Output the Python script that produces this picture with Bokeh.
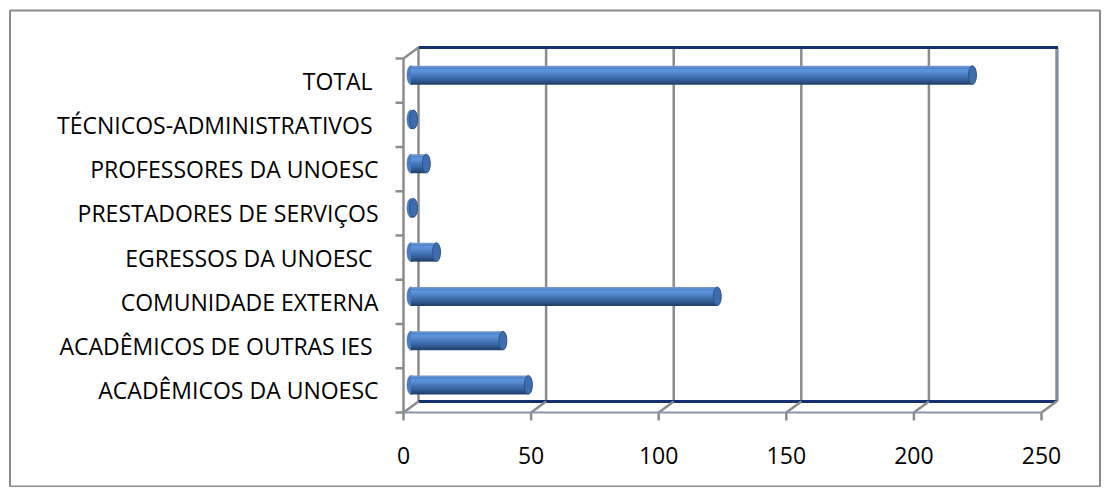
from bokeh.plotting import figure
from bokeh.models import Range1d, ColumnDataSource
from bokeh.core.properties import value
from bokeh.embed import file_html
from bokeh.resources import INLINE

# ---- data (bottom to top) ----
categories = [
    "ACADÊMICOS DA UNOESC",
    "ACADÊMICOS DE OUTRAS IES ",
    "COMUNIDADE EXTERNA",
    "EGRESSOS DA UNOESC ",
    "PRESTADORES DE SERVIÇOS",
    "PROFESSORES DA UNOESC",
    "TÉCNICOS-ADMINISTRATIVOS ",
    "TOTAL ",
]
counts = [46, 36, 120, 10, 1, 6, 1, 220]
x_ticks = [0, 50, 100, 150, 200, 250]
x_tick_labels = ["0", "50", "100", "150", "200", "250"]

# ---- layout constants (pixels) ----
W, H = 1101, 487
S = 2.552          # px per value unit
C = 44.25          # px per category
X0c = 403          # canvas px of value 0 (front plane)
Y0c = H - 412      # px from canvas bottom of front floor line
DX = 15 / S        # depth offset in value units
DY = 11 / C        # depth offset in category units
XMAX = 250
N = len(categories)

def px_x(px):
    return (px - X0c) / S

def px_y(py):
    return ((H - py) - Y0c) / C

p = figure(width=W, height=H, output_backend="svg", toolbar_location=None,
           x_range=Range1d(-X0c / S, (W - X0c) / S),
           y_range=Range1d(-Y0c / C, (H - Y0c) / C),
           x_axis_location=None, y_axis_location=None,
           min_border=0, min_border_left=0, min_border_right=0,
           min_border_top=0, min_border_bottom=0)
p.outline_line_color = None
p.grid.visible = False
p.background_fill_color = "white"
p.border_fill_color = "white"

GRAY = "#8c8c8c"
NAVY = "#14306e"

# outer chart border
p.quad(left=[px_x(9.5)], right=[px_x(1099.5)], top=[px_y(10)], bottom=[px_y(486)],
       fill_color=None, line_color=GRAY, line_width=2)

# back wall gridlines
p.segment(x0=[t + DX for t in x_ticks], y0=[DY] * len(x_ticks),
          x1=[t + DX for t in x_ticks], y1=[N + DY] * len(x_ticks),
          line_color=GRAY, line_width=2.5)
# back wall right edge thin navy
p.segment(x0=[XMAX + DX + 1.5 / S], y0=[DY], x1=[XMAX + DX + 1.5 / S], y1=[N + DY],
          line_color="#5a74a8", line_width=1)
# back wall top edge
p.segment(x0=[DX], y0=[N + DY], x1=[XMAX + DX + 1.5 / S], y1=[N + DY],
          line_color=NAVY, line_width=3)
# floor back edge
p.segment(x0=[DX], y0=[DY], x1=[XMAX + DX], y1=[DY],
          line_color=NAVY, line_width=3)
# floor diagonals
p.segment(x0=x_ticks, y0=[0] * len(x_ticks),
          x1=[t + DX for t in x_ticks], y1=[DY] * len(x_ticks),
          line_color=GRAY, line_width=2.5)
# floor front line
p.segment(x0=[0], y0=[0], x1=[XMAX], y1=[0], line_color="#8a96ad", line_width=2)
# bottom ticks
p.segment(x0=x_ticks, y0=[0] * len(x_ticks), x1=x_ticks,
          y1=[-8 / C] * len(x_ticks), line_color=GRAY, line_width=2.5)
# left wall front line
p.segment(x0=[0], y0=[0], x1=[0], y1=[N], line_color=GRAY, line_width=2.5)
# left wall top diagonal
p.segment(x0=[0], y0=[N], x1=[DX], y1=[N + DY], line_color=GRAY, line_width=2.5)
# category ticks
p.segment(x0=[0] * (N + 1), y0=list(range(N + 1)), x1=[-8 / S] * (N + 1),
          y1=list(range(N + 1)), line_color=GRAY, line_width=2.5)

# ---- cylinders ----
yc = [i + 0.5 + DY / 2 for i in range(N)]
start = [DX / 2] * N
end = [v + DX / 2 for v in counts]
HB = 19 / C
CAPW = 8 / S
src = ColumnDataSource(dict(y=yc, left=start, right=end))

p.ellipse(x="left", y="y", width=CAPW, height=HB, source=src,
          fill_color="#4a7cc0", line_color="#3f6dad", line_width=0.6)

shades = ["#7096cd", "#5286cb", "#5b92dc", "#5a8fd6", "#5186cb",
          "#4879bb", "#4170af", "#3a66a3", "#335b93", "#2b4e81", "#25436f"]
ns = len(shades)
sh = HB / ns
extra = 1.2 / C
for k, col in enumerate(shades):
    ys = [y + HB / 2 - sh * (k + 0.5) - (extra / 2 if k < ns - 1 else 0) for y in yc]
    p.hbar(y=ys, left=start, right=end,
           height=sh + (extra if k < ns - 1 else 0),
           fill_color=col, line_color=None)

p.ellipse(x="right", y="y", width=CAPW, height=HB * 0.98, source=src,
          fill_color="#3e6cad", line_color="#2d5490", line_width=1)

# ---- text ----
FONT = value("Open Sans")
p.text(x=[px_x(378)] * N, y=[i + 0.5 for i in range(N)], text=categories,
       text_align="right", text_baseline="middle", text_font=FONT,
       text_font_size="23px", text_color="black")
p.text(x=x_ticks, y=[px_y(455)] * len(x_ticks), text=x_tick_labels,
       text_align="center", text_baseline="middle", text_font=FONT,
       text_font_size="23px", text_color="black")

open("out.html", "w").write(file_html(p, INLINE))
